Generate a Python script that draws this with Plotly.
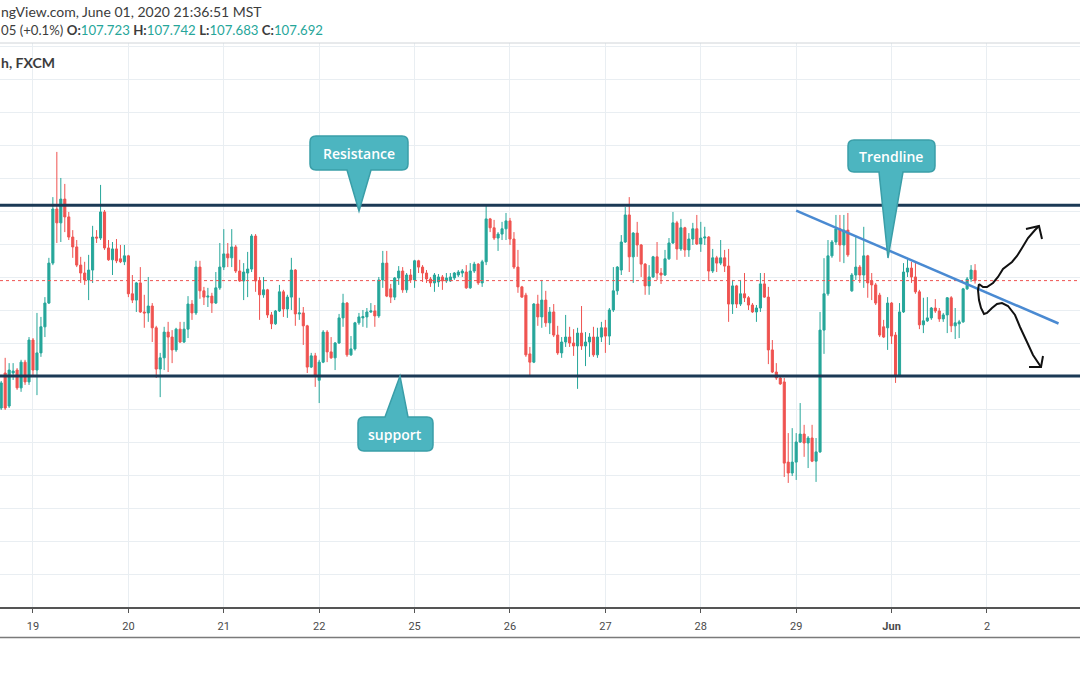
import pandas as pd
import plotly.graph_objects as go

# USDJPY 1h (FXCM), 18 May 2020 16:00 .. 1 Jun 2020 21:00 MST, weekends closed
sessions = [('2020-05-18 16:00', '2020-05-22 13:00'),
            ('2020-05-24 14:00', '2020-05-29 13:00'),
            ('2020-05-31 14:00', '2020-06-03 00:00')]

opens = [
    107.306, 107.412, 107.312, 107.412, 107.421, 107.367, 107.445, 107.385, 107.512, 107.421,
    107.473, 107.552, 107.624, 107.745, 107.909, 107.867, 107.939, 107.885, 107.824, 107.794,
    107.739, 107.715, 107.694, 107.724, 107.824, 107.821, 107.900, 107.791, 107.755, 107.788,
    107.758, 107.749, 107.767, 107.652, 107.633, 107.685, 107.597, 107.594, 107.615, 107.549,
    107.424, 107.458, 107.536, 107.521, 107.482, 107.545, 107.506, 107.545, 107.621, 107.594,
    107.733, 107.661, 107.642, 107.645, 107.624, 107.670, 107.733, 107.773, 107.761, 107.794,
    107.721, 107.691, 107.715, 107.727, 107.827, 107.691, 107.649, 107.664, 107.588, 107.561,
    107.600, 107.658, 107.606, 107.642, 107.724, 107.591, 107.594, 107.555, 107.430, 107.464,
    107.390, 107.445, 107.536, 107.476, 107.458, 107.503, 107.579, 107.624, 107.467, 107.485,
    107.564, 107.579, 107.582, 107.597, 107.600, 107.585, 107.694, 107.745, 107.667, 107.642,
    107.700, 107.721, 107.664, 107.709, 107.694, 107.752, 107.733, 107.715, 107.697, 107.685,
    107.688, 107.703, 107.691, 107.691, 107.700, 107.709, 107.715, 107.718, 107.670, 107.721,
    107.742, 107.685, 107.749, 107.879, 107.852, 107.821, 107.833, 107.849, 107.873, 107.818,
    107.733, 107.673, 107.648, 107.470, 107.445, 107.621, 107.582, 107.633, 107.564, 107.597,
    107.527, 107.473, 107.506, 107.521, 107.503, 107.494, 107.533, 107.494, 107.506, 107.521,
    107.467, 107.521, 107.549, 107.524, 107.603, 107.661, 107.724, 107.809, 107.891, 107.764,
    107.836, 107.800, 107.742, 107.676, 107.703, 107.764, 107.715, 107.709, 107.758, 107.806,
    107.867, 107.788, 107.852, 107.785, 107.818, 107.849, 107.803, 107.821, 107.824, 107.721,
    107.761, 107.745, 107.761, 107.736, 107.621, 107.676, 107.621, 107.652, 107.640, 107.618,
    107.597, 107.609, 107.682, 107.642, 107.482, 107.415, 107.397, 107.385, 107.142, 107.109,
    107.142, 107.203, 107.227, 107.200, 107.215, 107.145, 107.173, 107.542, 107.652, 107.767,
    107.809, 107.849, 107.800, 107.845, 107.661, 107.709, 107.733, 107.709, 107.767, 107.691,
    107.679, 107.648, 107.552, 107.549, 107.624, 107.527, 107.406, 107.597, 107.718, 107.730,
    107.703, 107.658, 107.558, 107.570, 107.579, 107.609, 107.600, 107.576, 107.588, 107.640,
    107.555, 107.561, 107.567, 107.667, 107.697, 107.723,
]
highs = [
    107.388, 107.458, 107.442, 107.442, 107.427, 107.452, 107.452, 107.521, 107.518, 107.594,
    107.582, 107.642, 107.761, 107.945, 108.082, 108.003, 107.985, 107.900, 107.845, 107.815,
    107.764, 107.749, 107.770, 107.858, 107.845, 107.982, 107.906, 107.815, 107.809, 107.818,
    107.800, 107.800, 107.770, 107.709, 107.688, 107.733, 107.649, 107.703, 107.624, 107.555,
    107.473, 107.552, 107.567, 107.542, 107.549, 107.567, 107.567, 107.645, 107.633, 107.752,
    107.752, 107.673, 107.670, 107.655, 107.718, 107.806, 107.848, 107.806, 107.848, 107.800,
    107.755, 107.745, 107.779, 107.833, 107.833, 107.703, 107.703, 107.667, 107.597, 107.603,
    107.679, 107.664, 107.649, 107.761, 107.727, 107.640, 107.612, 107.558, 107.473, 107.473,
    107.452, 107.542, 107.542, 107.521, 107.506, 107.591, 107.652, 107.627, 107.524, 107.567,
    107.594, 107.603, 107.609, 107.624, 107.618, 107.703, 107.782, 107.782, 107.682, 107.703,
    107.736, 107.733, 107.715, 107.727, 107.755, 107.755, 107.739, 107.724, 107.703, 107.715,
    107.712, 107.709, 107.715, 107.715, 107.718, 107.724, 107.727, 107.739, 107.745, 107.749,
    107.745, 107.755, 107.924, 107.882, 107.876, 107.839, 107.870, 107.897, 107.882, 107.839,
    107.785, 107.676, 107.655, 107.491, 107.624, 107.649, 107.694, 107.661, 107.612, 107.621,
    107.555, 107.521, 107.588, 107.552, 107.545, 107.549, 107.615, 107.536, 107.533, 107.552,
    107.549, 107.567, 107.573, 107.609, 107.733, 107.736, 107.830, 107.915, 107.945, 107.839,
    107.870, 107.803, 107.745, 107.739, 107.767, 107.809, 107.730, 107.785, 107.821, 107.900,
    107.873, 107.879, 107.855, 107.836, 107.867, 107.891, 107.870, 107.855, 107.827, 107.788,
    107.767, 107.815, 107.785, 107.788, 107.694, 107.679, 107.694, 107.715, 107.645, 107.624,
    107.618, 107.715, 107.715, 107.673, 107.512, 107.442, 107.403, 107.397, 107.230, 107.245,
    107.230, 107.321, 107.255, 107.221, 107.255, 107.215, 107.597, 107.760, 107.815, 107.815,
    107.891, 107.891, 107.891, 107.897, 107.715, 107.824, 107.739, 107.855, 107.770, 107.715,
    107.685, 107.655, 107.573, 107.642, 107.627, 107.536, 107.624, 107.745, 107.761, 107.749,
    107.745, 107.664, 107.640, 107.642, 107.612, 107.636, 107.609, 107.594, 107.642, 107.645,
    107.609, 107.573, 107.670, 107.703, 107.739, 107.742,
]
lows = [
    107.300, 107.300, 107.306, 107.391, 107.361, 107.355, 107.376, 107.376, 107.400, 107.345,
    107.461, 107.521, 107.621, 107.739, 107.806, 107.809, 107.839, 107.815, 107.761, 107.733,
    107.685, 107.679, 107.633, 107.685, 107.806, 107.815, 107.785, 107.752, 107.709, 107.745,
    107.745, 107.739, 107.642, 107.624, 107.597, 107.594, 107.549, 107.567, 107.506, 107.397,
    107.339, 107.421, 107.415, 107.442, 107.476, 107.503, 107.503, 107.518, 107.573, 107.588,
    107.637, 107.618, 107.612, 107.594, 107.621, 107.664, 107.724, 107.733, 107.733, 107.715,
    107.688, 107.633, 107.642, 107.718, 107.658, 107.573, 107.640, 107.579, 107.545, 107.558,
    107.597, 107.582, 107.579, 107.603, 107.555, 107.573, 107.497, 107.412, 107.427, 107.370,
    107.321, 107.442, 107.445, 107.455, 107.421, 107.500, 107.552, 107.461, 107.464, 107.480,
    107.558, 107.552, 107.549, 107.594, 107.552, 107.579, 107.670, 107.642, 107.624, 107.633,
    107.679, 107.655, 107.655, 107.685, 107.670, 107.715, 107.688, 107.685, 107.673, 107.658,
    107.673, 107.664, 107.685, 107.688, 107.694, 107.703, 107.703, 107.667, 107.667, 107.715,
    107.679, 107.673, 107.739, 107.839, 107.815, 107.782, 107.815, 107.815, 107.800, 107.727,
    107.655, 107.640, 107.461, 107.400, 107.442, 107.555, 107.549, 107.552, 107.530, 107.521,
    107.467, 107.458, 107.491, 107.491, 107.464, 107.364, 107.482, 107.433, 107.461, 107.461,
    107.458, 107.506, 107.473, 107.497, 107.597, 107.649, 107.709, 107.806, 107.718, 107.685,
    107.764, 107.703, 107.649, 107.649, 107.700, 107.694, 107.682, 107.706, 107.755, 107.803,
    107.755, 107.782, 107.764, 107.764, 107.800, 107.800, 107.779, 107.800, 107.694, 107.715,
    107.718, 107.739, 107.718, 107.567, 107.591, 107.609, 107.615, 107.627, 107.603, 107.594,
    107.567, 107.597, 107.640, 107.439, 107.412, 107.391, 107.376, 107.097, 107.079, 107.100,
    107.088, 107.200, 107.158, 107.124, 107.142, 107.082, 107.170, 107.470, 107.646, 107.761,
    107.800, 107.749, 107.745, 107.764, 107.658, 107.694, 107.685, 107.670, 107.640, 107.633,
    107.618, 107.521, 107.518, 107.482, 107.500, 107.382, 107.400, 107.594, 107.703, 107.685,
    107.652, 107.545, 107.533, 107.567, 107.573, 107.594, 107.567, 107.567, 107.533, 107.536,
    107.515, 107.518, 107.564, 107.664, 107.688, 107.683,
]
closes = [
    107.382, 107.306, 107.421, 107.418, 107.367, 107.445, 107.385, 107.512, 107.421, 107.473,
    107.552, 107.624, 107.745, 107.909, 107.867, 107.939, 107.885, 107.824, 107.794, 107.739,
    107.715, 107.694, 107.724, 107.824, 107.821, 107.900, 107.791, 107.755, 107.788, 107.752,
    107.749, 107.767, 107.652, 107.633, 107.685, 107.597, 107.594, 107.615, 107.549, 107.424,
    107.458, 107.536, 107.521, 107.482, 107.545, 107.506, 107.545, 107.621, 107.594, 107.733,
    107.661, 107.642, 107.645, 107.624, 107.670, 107.733, 107.773, 107.761, 107.794, 107.721,
    107.691, 107.718, 107.727, 107.827, 107.691, 107.649, 107.664, 107.588, 107.561, 107.600,
    107.658, 107.606, 107.642, 107.724, 107.591, 107.594, 107.555, 107.430, 107.464, 107.406,
    107.445, 107.536, 107.476, 107.458, 107.503, 107.579, 107.624, 107.467, 107.485, 107.564,
    107.582, 107.583, 107.597, 107.600, 107.585, 107.694, 107.745, 107.645, 107.642, 107.700,
    107.721, 107.664, 107.709, 107.694, 107.752, 107.733, 107.715, 107.697, 107.685, 107.709,
    107.703, 107.691, 107.700, 107.703, 107.715, 107.718, 107.721, 107.670, 107.721, 107.742,
    107.685, 107.749, 107.879, 107.852, 107.821, 107.833, 107.849, 107.873, 107.818, 107.733,
    107.673, 107.642, 107.467, 107.445, 107.621, 107.582, 107.633, 107.564, 107.597, 107.527,
    107.473, 107.506, 107.521, 107.503, 107.494, 107.533, 107.494, 107.506, 107.521, 107.467,
    107.521, 107.549, 107.524, 107.603, 107.661, 107.733, 107.809, 107.891, 107.764, 107.836,
    107.800, 107.742, 107.676, 107.703, 107.764, 107.715, 107.709, 107.758, 107.806, 107.867,
    107.788, 107.852, 107.785, 107.818, 107.849, 107.803, 107.821, 107.824, 107.721, 107.761,
    107.745, 107.761, 107.736, 107.621, 107.676, 107.621, 107.652, 107.640, 107.618, 107.597,
    107.609, 107.682, 107.642, 107.482, 107.415, 107.397, 107.379, 107.139, 107.109, 107.142,
    107.203, 107.227, 107.200, 107.215, 107.145, 107.173, 107.542, 107.652, 107.767, 107.809,
    107.849, 107.800, 107.845, 107.770, 107.709, 107.733, 107.709, 107.767, 107.685, 107.679,
    107.624, 107.527, 107.521, 107.624, 107.524, 107.406, 107.597, 107.718, 107.730, 107.703,
    107.658, 107.558, 107.570, 107.579, 107.609, 107.600, 107.576, 107.588, 107.640, 107.555,
    107.564, 107.567, 107.667, 107.697, 107.724, 107.692,
]

day_ticks = ['2020-05-19', '2020-05-20', '2020-05-21', '2020-05-22', '2020-05-25', '2020-05-26',
             '2020-05-27', '2020-05-28', '2020-05-29', '2020-06-01', '2020-06-02', '2020-06-03']
tick_labels = ['19', '20', '21', '22', '25', '26', '27', '28', '29', '<b>Jun</b>', '2', '3']

resistance = 107.920
support = 107.403
trend_hours = ['2020-05-29 00:00', '2020-06-02 18:00']
trend_prices = [107.904, 107.562]

# bar index on a gapless time scale (like TradingView)
hours = pd.DatetimeIndex([t for a, b in sessions for t in pd.date_range(a, b, freq='h')])
bar_x = list(range(len(closes)))
tick_x = [hours.get_loc(pd.Timestamp(d)) for d in day_ticks]
trend_x = [hours.get_loc(pd.Timestamp(t)) for t in trend_hours]

# screen rows: chart top, time-axis line, bottom of the time-scale pane
PANE_TOP, AXIS_Y, PANE_BOTTOM, WIDTH, HEIGHT = 43, 607, 638, 1080, 675


def px(x, y):
    # screen pixel -> paper coords, for the hand-drawn bits
    return x / WIDTH, (PANE_BOTTOM - y) / (PANE_BOTTOM - PANE_TOP)


def pt(x, y):
    a, b = px(x, y)
    return f'{a:.5f},{b:.5f}'


def polyline(points):
    return 'M ' + ' L '.join(pt(x, y) for x, y in points)


def callout_path(x0, y0, x1, y1, bx0, bx1, tip, side, r=6):
    tx, ty = tip
    d = [f'M {pt(x0 + r, y0)}']
    if side == 'top':
        d += [f'L {pt(bx0, y0)}', f'L {pt(tx, ty)}', f'L {pt(bx1, y0)}']
    d += [f'L {pt(x1 - r, y0)}', f'Q {pt(x1, y0)} {pt(x1, y0 + r)}',
          f'L {pt(x1, y1 - r)}', f'Q {pt(x1, y1)} {pt(x1 - r, y1)}']
    if side == 'bottom':
        d += [f'L {pt(bx1, y1)}', f'L {pt(tx, ty)}', f'L {pt(bx0, y1)}']
    d += [f'L {pt(x0 + r, y1)}', f'Q {pt(x0, y1)} {pt(x0, y1 - r)}',
          f'L {pt(x0, y0 + r)}', f'Q {pt(x0, y0)} {pt(x0 + r, y0)}', 'Z']
    return ' '.join(d)


fig = go.Figure(go.Candlestick(
    x=bar_x, open=opens, high=highs, low=lows, close=closes,
    increasing=dict(line=dict(color='#26a69a', width=1), fillcolor='#26a69a'),
    decreasing=dict(line=dict(color='#ef5350', width=1), fillcolor='#ef5350'),
    whiskerwidth=0, hoverinfo='skip'))

level_line = dict(color='#1b3955', width=3)
shapes = [
    dict(type='line', xref='paper', x0=0, x1=1, yref='y', y0=resistance, y1=resistance, line=level_line),
    dict(type='line', xref='paper', x0=0, x1=1, yref='y', y0=support, y1=support, line=level_line),
    dict(type='line', xref='paper', x0=0, x1=1, yref='y', y0=closes[-1], y1=closes[-1],
         line=dict(color='#ef5350', width=1, dash='dot')),
    dict(type='line', xref='x', yref='y', x0=trend_x[0], x1=trend_x[1], y0=trend_prices[0], y1=trend_prices[1],
         line=dict(color='#4a8ad2', width=2.5)),
    # frame lines of the TradingView panes
    dict(type='line', xref='paper', yref='paper', x0=0, x1=1, y0=1, y1=1, line=dict(color='#d0d4d8', width=1)),
    dict(type='line', xref='paper', yref='paper', x0=0, x1=1, y0=0.001, y1=0.001,
         line=dict(color='#7a7a7a', width=1.5)),
]

callout_style = dict(type='path', xref='paper', yref='paper', fillcolor='#4cb5c0',
                     line=dict(color='#3a9ea8', width=1.5))
shapes += [
    dict(path=callout_path(310, 136, 408, 170, 347, 371, (359, 211), 'bottom'), **callout_style),
    dict(path=callout_path(848, 140, 935, 172, 879, 903, (888, 258), 'bottom'), **callout_style),
    dict(path=callout_path(358, 417, 433, 451, 385, 408, (400, 376), 'top'), **callout_style),
]

pen = dict(color='#111111', width=2)
up_stroke = [(979, 284), (983, 287), (987, 287), (993, 283), (998, 277), (1003, 269), (1012, 262),
             (1017, 256), (1022, 248), (1028, 238), (1035, 230), (1039, 226)]
down_stroke = [(979, 284), (978, 290), (979, 300), (981, 308), (984, 314), (987, 313), (992, 308),
               (997, 304), (1002, 303), (1008, 306), (1015, 315), (1020, 327), (1027, 342),
               (1033, 355), (1041, 367)]
for stroke in (up_stroke, down_stroke):
    shapes.append(dict(type='path', xref='paper', yref='paper', path=polyline(stroke), line=pen))
shapes.append(dict(type='path', xref='paper', yref='paper',
                   path=polyline([(1026, 229), (1039, 226), (1042, 239)]), line=pen))
shapes.append(dict(type='path', xref='paper', yref='paper',
                   path=polyline([(1029, 367), (1041, 367), (1043, 356)]), line=pen))

annotations = []
for text, (cx, cy) in [('Resistance', (359, 153)), ('Trendline', (891, 156)), ('support', (395, 434))]:
    ax, ay = px(cx, cy)
    annotations.append(dict(text=text, x=ax, y=ay, xref='paper', yref='paper', showarrow=False,
                            xanchor='center', yanchor='middle',
                            font=dict(family='Open Sans', size=14, color='white', weight=600)))

val = "<span style='color:#26a69a'>%s</span>"
header = [
    ('ngView.com, June 01, 2020 21:36:51 MST', 12, 14),
    ('05 (+0.1%) <b>O:</b>' + val % '107.723' + ' <b>H:</b>' + val % '107.742' +
     ' <b>L:</b>' + val % '107.683' + ' <b>C:</b>' + val % '107.692', 30, 13.2),
    ('<b>h, FXCM</b>', 62, 14),
]
for text, cy, size in header:
    ax, ay = px(-1, cy)
    annotations.append(dict(text=text, x=ax, y=ay, xref='paper', yref='paper', showarrow=False,
                            xanchor='left', yanchor='middle',
                            font=dict(family='Lato', size=size, color='#3c3c3c')))

fig.update_layout(
    width=WIDTH, height=HEIGHT,
    margin=dict(l=0, r=0, t=PANE_TOP, b=HEIGHT - PANE_BOTTOM),
    paper_bgcolor='white', plot_bgcolor='white',
    showlegend=False, hovermode=False, boxgap=0.25,
    shapes=shapes, annotations=annotations,
    xaxis=dict(range=[-0.3, 271.4], tickmode='array', tickvals=tick_x, ticktext=tick_labels,
               showgrid=True, gridcolor='#e9eef2', gridwidth=1, zeroline=False,
               showline=True, linecolor='#555555', linewidth=1.5,
               ticks='outside', ticklen=4, tickcolor='#555555', ticklabelstandoff=4,
               tickfont=dict(family='Roboto', size=11, color='#4a4a4a'),
               rangeslider=dict(visible=False)),
    yaxis=dict(range=[106.703, 108.412], dtick=0.1, tick0=106.7, showticklabels=False,
               domain=[(PANE_BOTTOM - AXIS_Y) / (PANE_BOTTOM - PANE_TOP), 1],
               showgrid=True, gridcolor='#e9eef2', gridwidth=1, zeroline=False, fixedrange=True),
)

# the page's default body margin would push the chart 8px off the screenshot origin
fig.write_html("out.html", config={'displayModeBar': False},
               post_script="document.body.style.margin = '0';")
